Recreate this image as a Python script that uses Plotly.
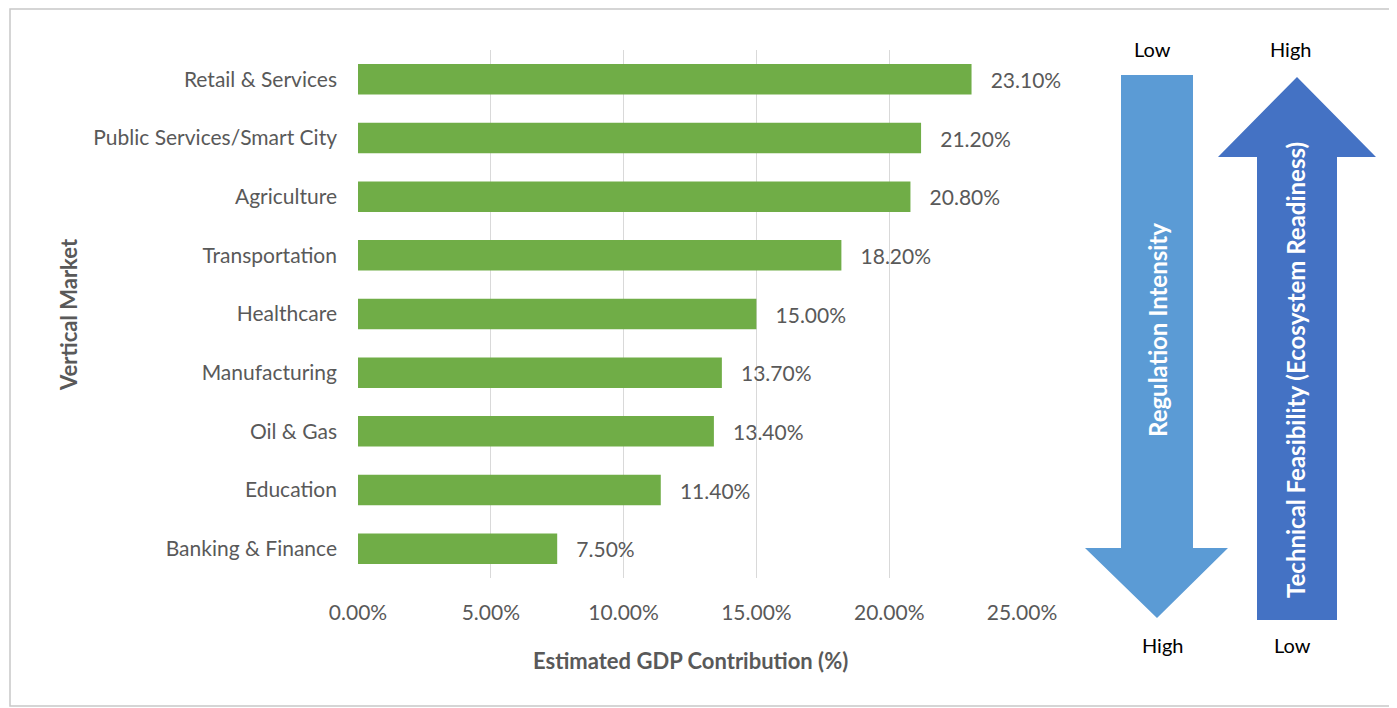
import plotly.graph_objects as go

categories = ["Retail & Services", "Public Services/Smart City", "Agriculture",
              "Transportation", "Healthcare", "Manufacturing", "Oil & Gas",
              "Education", "Banking & Finance"]
gdp_share = [23.10, 21.20, 20.80, 18.20, 15.00, 13.70, 13.40, 11.40, 7.50]
x_ticks = [0, 5, 10, 15, 20, 25]
x_tick_labels = ["0.00%", "5.00%", "10.00%", "15.00%", "20.00%", "25.00%"]

OFF = 8                      # page body margin
SW, SH = 1397, 708           # screen size
W, H = SW - OFF, SH - OFF    # figure size
L, R, T, B = 358, 1022, 50, 578   # plot area in screen pixels
FONT = "Lato, 'Open Sans', sans-serif"
GREY = "#595959"

def px(x):
    return (x - L) / (R - L)

def py(y):
    return (B - y) / (B - T)

def path(pts):
    return "M " + " L ".join(f"{px(x):.5f},{py(y):.5f}" for x, y in pts) + " Z"

pad = "\u00a0\u00a0\u00a0"
fig = go.Figure(go.Bar(
    x=gdp_share, y=categories, orientation="h",
    marker=dict(color="#70AD47", line=dict(width=0)),
    width=0.52,
    text=[f"{pad}{v:.2f}%" for v in gdp_share], textposition="outside",
    textfont=dict(family=FONT, size=21, color=GREY),
    cliponaxis=False,
))

shapes = [
    dict(type="rect", xref="paper", yref="paper", x0=px(10), x1=px(1396), y0=py(9), y1=py(706),
         line=dict(color="#c8c8c8", width=1.5), fillcolor="rgba(0,0,0,0)", layer="below"),
    dict(type="path", xref="paper", yref="paper",
         path=path([(1121, 75), (1193, 75), (1193, 548), (1228, 548), (1157, 618),
                    (1085, 548), (1121, 548)]),
         fillcolor="#5B9BD5", line=dict(width=0)),
    dict(type="path", xref="paper", yref="paper",
         path=path([(1257, 620), (1337, 620), (1337, 157), (1376, 157), (1297, 77),
                    (1218, 157), (1257, 157)]),
         fillcolor="#4472C4", line=dict(width=0)),
]

def ann(text, x, y, size=20, color="black", bold=False, angle=0):
    return dict(text=f"<b>{text}</b>" if bold else text, xref="paper", yref="paper",
                x=px(x), y=py(y), showarrow=False, textangle=angle,
                font=dict(family=FONT, size=size, color=color),
                xanchor="center", yanchor="middle")

annotations = [
    ann("Vertical Market", 68, 315, size=22, color=GREY, bold=True, angle=-90),
    ann("Estimated GDP Contribution (%)", 690, 660, size=22, color=GREY, bold=True),
    ann("Low", 1152, 49), ann("High", 1290, 49),
    ann("High", 1162, 645), ann("Low", 1292, 645),
    ann("Regulation Intensity", 1157, 330, size=24, color="white", bold=True, angle=-90),
    ann("Technical Feasibility (Ecosystem Readiness)", 1295, 370, size=24, color="white",
        bold=True, angle=-90),
]

fig.update_layout(
    width=W, height=H,
    margin=dict(l=L - OFF, r=SW - R, t=T - OFF, b=SH - B),
    plot_bgcolor="white", paper_bgcolor="white",
    showlegend=False, shapes=shapes, annotations=annotations,
    font=dict(family=FONT, color=GREY),
    xaxis=dict(range=[0, 25], tickvals=x_ticks, ticktext=x_tick_labels,
               showgrid=True, gridcolor="#d9d9d9", gridwidth=1, zeroline=False,
               showline=False, ticks="", ticklabelstandoff=20,
               tickfont=dict(family=FONT, size=21, color=GREY)),
    yaxis=dict(autorange="reversed", showgrid=False, zeroline=False, showline=False,
               ticks="", ticklabelstandoff=20,
               tickfont=dict(family=FONT, size=21, color=GREY)),
)

fig.write_html("out.html")
